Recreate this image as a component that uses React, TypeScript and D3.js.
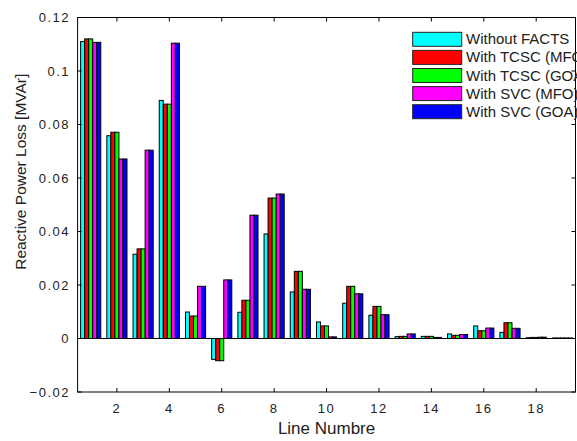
import React from "react";
import * as d3 from "d3";

const lines = d3.range(1, 20);
const seriesNames = [
  "Without FACTS",
  "With TCSC (MFO)",
  "With TCSC (GOA)",
  "With SVC (MFO)",
  "With SVC (GOA)",
];
const seriesColors = ["#00FFFF", "#FF0000", "#00FF00", "#FF00FF", "#0000FF"];

const withoutFacts = [0.111, 0.0758, 0.0315, 0.089, 0.0099, -0.0078, 0.0098, 0.0391, 0.0174, 0.0062, 0.0132, 0.0087, 0.0007, 0.0008, 0.0017, 0.0047, 0.0023, 0.0003, 0.0002];
const tcscMFO = [0.112, 0.0771, 0.0335, 0.0876, 0.0084, -0.0083, 0.0143, 0.0525, 0.0251, 0.0047, 0.0195, 0.012, 0.0008, 0.0008, 0.0012, 0.0029, 0.0059, 0.0004, 0.0002];
const tcscGOA = [0.112, 0.0771, 0.0335, 0.0876, 0.0084, -0.0083, 0.0143, 0.0525, 0.0251, 0.0047, 0.0195, 0.012, 0.0008, 0.0008, 0.0012, 0.0029, 0.0059, 0.0004, 0.0002];
const svcMFO = [0.1107, 0.0671, 0.0704, 0.1104, 0.0195, 0.0219, 0.0461, 0.054, 0.0184, 0.0006, 0.0167, 0.0089, 0.0017, 0.0004, 0.0015, 0.0039, 0.0038, 0.0005, 0.0002];
const svcGOA = [0.1107, 0.0671, 0.0704, 0.1104, 0.0195, 0.0219, 0.0461, 0.054, 0.0184, 0.0006, 0.0167, 0.0089, 0.0017, 0.0004, 0.0015, 0.0039, 0.0038, 0.0005, 0.0002];
const allSeries = [withoutFacts, tcscMFO, tcscGOA, svcMFO, svcGOA];

const xTicks = [2, 4, 6, 8, 10, 12, 14, 16, 18];
const yTicks = [-0.02, 0, 0.02, 0.04, 0.06, 0.08, 0.1, 0.12];
const xLabel = "Line Numbre";
const yLabel = "Reactive Power Loss [MVAr]";

export default function App() {
  const W = 577, H = 441;
  const left = 77.6, right = 575.5, top = 17.5, bottom = 392;
  const x = d3.scaleLinear().domain([0.5, 19.5]).range([left, right]);
  const y = d3.scaleLinear().domain([-0.02, 0.12]).range([bottom, top]);
  const unit = x(2) - x(1);
  const groupW = 0.769 * unit;
  const barW = groupW / 5;
  const font = "'Liberation Sans', Arial, Helvetica, sans-serif";
  const tickLen = 4;

  return (
    <svg width={W} height={H} style={{ position: "absolute", left: 0, top: 0, background: "#fff" }}>
      <rect x={0} y={0} width={W} height={H} fill="#fff" />
      {/* bars */}
      {allSeries.map((vals, s) =>
        vals.map((v, i) => {
          const cx = x(lines[i]);
          const bx = cx - groupW / 2 + s * barW;
          const y0 = y(0), y1 = y(v);
          return (
            <rect
              key={`${s}-${i}`}
              x={bx}
              y={Math.min(y0, y1)}
              width={barW}
              height={Math.max(Math.abs(y1 - y0), 0.5)}
              fill={seriesColors[s]}
              stroke="#000"
              strokeWidth={1}
            />
          );
        })
      )}
      {/* zero baseline */}
      <line x1={left} x2={right} y1={y(0)} y2={y(0)} stroke="#000" strokeWidth={1} />
      {/* axes box */}
      <rect x={left} y={top} width={right - left} height={bottom - top} fill="none" stroke="#000" strokeWidth={1} />
      {/* x ticks */}
      {xTicks.map((t) => (
        <g key={`xt${t}`}>
          <line x1={x(t)} x2={x(t)} y1={bottom} y2={bottom - tickLen} stroke="#000" />
          <line x1={x(t)} x2={x(t)} y1={top} y2={top + tickLen} stroke="#000" />
          <text x={x(t)} y={413} textAnchor="middle" fontFamily={font} fontSize={13} letterSpacing={1.5} fill="#222">
            {String(t)}
          </text>
        </g>
      ))}
      {/* y ticks */}
      {yTicks.map((t) => (
        <g key={`yt${t}`}>
          <line x1={left} x2={left + tickLen} y1={y(t)} y2={y(t)} stroke="#000" />
          <line x1={right} x2={right - tickLen} y1={y(t)} y2={y(t)} stroke="#000" />
          <text x={70} y={y(t) + 4.6} textAnchor="end" fontFamily={font} fontSize={13} letterSpacing={1.5} fill="#222">
            {d3.format("~g")(+t.toFixed(2))}
          </text>
        </g>
      ))}
      {/* axis labels */}
      <text x={x(10)} y={434} textAnchor="middle" fontFamily={font} fontSize={17} fill="#222">
        {xLabel}
      </text>
      <text
        transform={`translate(26, ${(top + bottom) / 2 - 33}) rotate(-90)`}
        textAnchor="middle"
        fontFamily={font}
        fontSize={15.5}
        fill="#222"
      >
        {yLabel}
      </text>
      {/* legend */}
      {seriesNames.map((n, i) => {
        const ry = 32.3 + i * 18.1;
        return (
          <g key={n}>
            <rect x={412.7} y={ry} width={49} height={14} fill={seriesColors[i]} stroke="#222" strokeWidth={1} />
            <text x={466} y={ry + 12} fontFamily={font} fontSize={15} fill="#222">
              {n}
            </text>
          </g>
        );
      })}
    </svg>
  );
}
